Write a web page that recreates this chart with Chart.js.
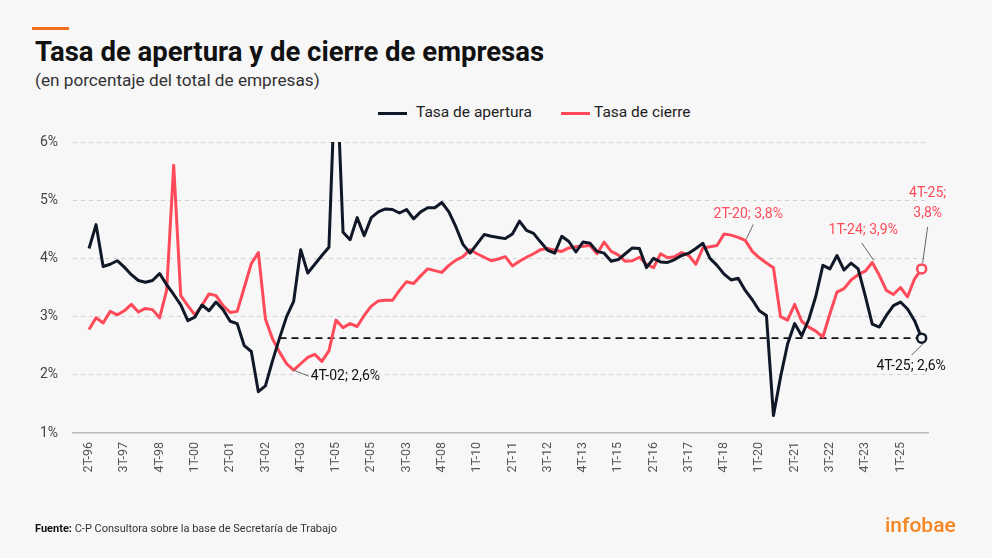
<!DOCTYPE html>
<html lang="es">
<head>
<meta charset="utf-8">
<title>Tasa de apertura y de cierre de empresas</title>
<script src="https://cdn.jsdelivr.net/npm/chart.js@4.4.1/dist/chart.umd.min.js"></script>
<style>
  html, body { margin: 0; padding: 0; background: #f7f7f7; }
  body { width: 992px; height: 558px; position: relative; overflow: hidden; font-family: Roboto, "Noto Sans", sans-serif; }
  #chart { position: absolute; left: 0; top: 0; }
  .abs { position: absolute; white-space: nowrap; line-height: 1; }
  #bar { position: absolute; left: 32px; top: 26.5px; width: 37px; height: 3px; background: #f26f21; }
  #title { left: 35px; top: 38px; font-size: 27.5px; font-weight: 700; color: #111; }
  #sub { left: 35px; top: 71.6px; font-size: 17.2px; color: #333; }
  .key { position: absolute; top: 111.5px; width: 29px; height: 3px; }
  .keytxt { top: 105.4px; font-size: 15.5px; color: #222; }
  #src { left: 35px; top: 522.5px; font-size: 11px; color: #333; }
  #src b { color: #111; }
  #logo { left: 885px; top: 515px; font-size: 21px; font-weight: 500; color: #f5861f; }
</style>
</head>
<body>
<div id="bar"></div>
<div id="title" class="abs">Tasa de apertura y de cierre de empresas</div>
<div id="sub" class="abs">(en porcentaje del total de empresas)</div>
<div class="key" style="left:378px;background:#101828"></div>
<div class="abs keytxt" style="left:416px">Tasa de apertura</div>
<div class="key" style="left:561px;background:#ff4a5a"></div>
<div class="abs keytxt" style="left:594px">Tasa de cierre</div>
<canvas id="chart" width="992" height="558"></canvas>
<div id="src" class="abs"><b>Fuente:</b> C-P Consultora sobre la base de Secretaría de Trabajo</div>
<div id="logo" class="abs">infobae</div>

<script>
// tasa de apertura, trimestral desde 2T-96 hasta 4T-25 (%)
const apertura = [
  4.17, 4.58, 3.86, 3.90, 3.96, 3.85, 3.72, 3.62, 3.59, 3.62,
  3.74, 3.55, 3.38, 3.20, 2.93, 2.99, 3.20, 3.10, 3.25, 3.12,
  2.92, 2.88, 2.50, 2.40, 1.71, 1.81, 2.24, 2.63, 3.00, 3.26,
  4.15, 3.75, 3.90, 4.05, 4.19, 7.50, 4.45, 4.32, 4.70, 4.39,
  4.70, 4.80, 4.85, 4.84, 4.78, 4.84, 4.68, 4.80, 4.87, 4.87,
  4.96, 4.80, 4.54, 4.24, 4.09, 4.25, 4.41, 4.38, 4.36, 4.34,
  4.42, 4.64, 4.48, 4.43, 4.28, 4.14, 4.09, 4.38, 4.29, 4.11,
  4.28, 4.26, 4.12, 4.09, 3.95, 3.98, 4.08, 4.18, 4.17, 3.84,
  4.00, 3.94, 3.93, 3.98, 4.05, 4.09, 4.17, 4.26, 4.00, 3.88,
  3.73, 3.63, 3.66, 3.45, 3.29, 3.10, 3.02, 1.30, 1.96, 2.53,
  2.88, 2.67, 2.95, 3.35, 3.88, 3.82, 4.05, 3.80, 3.92, 3.82,
  3.36, 2.87, 2.82, 3.02, 3.19, 3.25, 3.13, 2.93, 2.63
];

// tasa de cierre (%)
const cierre = [
  2.78, 2.98, 2.89, 3.09, 3.03, 3.10, 3.21, 3.08, 3.14, 3.12,
  2.98, 3.45, 5.60, 3.36, 3.19, 3.03, 3.19, 3.39, 3.36, 3.19,
  3.07, 3.09, 3.50, 3.91, 4.10, 2.96, 2.62, 2.39, 2.19, 2.08,
  2.19, 2.30, 2.35, 2.23, 2.41, 2.94, 2.81, 2.88, 2.83, 3.02,
  3.18, 3.27, 3.28, 3.28, 3.45, 3.60, 3.57, 3.70, 3.82, 3.79,
  3.76, 3.88, 3.97, 4.03, 4.15, 4.08, 4.02, 3.96, 3.99, 4.03,
  3.87, 3.95, 4.02, 4.08, 4.15, 4.17, 4.14, 4.12, 4.18, 4.20,
  4.21, 4.22, 4.08, 4.28, 4.12, 4.06, 3.95, 3.96, 4.02, 3.90,
  3.84, 4.08, 4.01, 4.03, 4.10, 4.05, 3.90, 4.18, 4.20, 4.22,
  4.42, 4.40, 4.36, 4.31, 4.12, 4.01, 3.92, 3.84, 3.00, 2.94,
  3.21, 2.92, 2.82, 2.75, 2.65, 3.05, 3.42, 3.48, 3.63, 3.72,
  3.78, 3.93, 3.71, 3.45, 3.38, 3.50, 3.34, 3.65, 3.82
];

// etiquetas visibles del eje x (una cada 5 trimestres), tal como aparecen
const tickLabels = [
  '2T-96', '3T-97', '4T-98', '1T-00', '2T-01', '3T-02', '4T-03', '1T-05',
  '2T-05', '3T-03', '4T-08', '1T-10', '2T-11', '3T-12', '4T-13', '1T-15',
  '2T-16', '3T-17', '4T-18', '1T-20', '2T-21', '3T-22', '4T-23', '1T-25'
];
const yTicks = [1, 2, 3, 4, 5, 6];

// linea de referencia punteada: nivel del ultimo dato de apertura
const refFrom = 27;

const RED = '#ff4a5a';
const BLACK = '#101828';
const BG = '#f7f7f7';

const last = apertura.length - 1;
const refLevel = apertura[last];

// trimestres 2T-96 ... 4T-25
const quarters = [];
for (let i = 0, y = 1996, q = 2; i < apertura.length; i++) {
  quarters.push(q + 'T-' + String(y).slice(2));
  q++;
  if (q > 4) { q = 1; y++; }
}

const toPoints = arr => arr.map((v, i) => ({ x: i, y: v }));
const tickIdx = tickLabels.map((_, k) => k * 5);

// notas sobre el grafico (desplazamientos en px respecto del punto)
const notes = [
  { set: 1, idx: 93, text: ['2T-20; 3,8%'], color: RED, from: [1, -1], to: [8, -16], at: [3, -26], align: 'center' },
  { set: 1, idx: 111, text: ['1T-24; 3,9%'], color: RED, from: [1.5, -2], to: [-10.5, -19.5], at: [-9, -31.5], align: 'center' },
  { set: 1, idx: last, text: ['4T-25;', '3,8%'], color: RED, from: [1, -6], to: [6, -42], at: [6, -75], align: 'center' },
  { set: 0, idx: last, text: ['4T-25; 2,6%'], color: '#111', from: [1, 6], to: [-10, 17], at: [-10.5, 28.5], align: 'center' },
  { set: 1, idx: 29, text: ['4T-02; 2,6%'], color: '#111', from: [0, 0], to: [15, 6], at: [17, 6.5], align: 'left' }
];

const notesPlugin = {
  id: 'notes',
  afterDatasetsDraw(chart) {
    const ctx = chart.ctx;
    ctx.save();
    notes.forEach(n => {
      const pt = chart.getDatasetMeta(n.set).data[n.idx];
      ctx.strokeStyle = '#666';
      ctx.lineWidth = 1;
      ctx.beginPath();
      ctx.moveTo(pt.x + n.from[0], pt.y + n.from[1]);
      ctx.lineTo(pt.x + n.to[0], pt.y + n.to[1]);
      ctx.stroke();
      ctx.fillStyle = n.color;
      ctx.font = '400 14px Roboto';
      ctx.textAlign = n.align;
      ctx.textBaseline = 'middle';
      n.text.forEach((t, k) => ctx.fillText(t, pt.x + n.at[0], pt.y + n.at[1] + k * 20));
    });
    ctx.restore();
  }
};

Chart.defaults.font.family = 'Roboto';

const endDot = c => (c.dataIndex === last ? 4.5 : 0);

new Chart(document.getElementById('chart'), {
  type: 'line',
  data: {
    labels: quarters,
    datasets: [
      {
        label: 'Tasa de apertura',
        data: toPoints(apertura),
        borderColor: BLACK,
        borderWidth: 3,
        borderJoinStyle: 'round',
        tension: 0,
        pointRadius: endDot,
        pointBorderWidth: 2.5,
        pointBorderColor: BLACK,
        pointBackgroundColor: BG
      },
      {
        label: 'Tasa de cierre',
        data: toPoints(cierre),
        borderColor: RED,
        borderWidth: 3,
        borderJoinStyle: 'round',
        tension: 0,
        pointRadius: endDot,
        pointBorderWidth: 2.5,
        pointBorderColor: RED,
        pointBackgroundColor: BG
      },
      {
        label: 'ref',
        data: [{ x: refFrom, y: refLevel }, { x: last, y: refLevel }],
        borderColor: '#111',
        borderWidth: 1.8,
        borderDash: [7, 5],
        pointRadius: 0
      }
    ]
  },
  options: {
    responsive: false,
    animation: false,
    layout: { padding: { top: 142, right: 64, left: 0, bottom: 0 } },
    plugins: {
      legend: { display: false },
      tooltip: { enabled: false }
    },
    scales: {
      x: {
        type: 'linear',
        min: -2.27,
        max: 118.9,
        afterFit: s => { s.height = 125; },
        afterBuildTicks: s => { s.ticks = tickIdx.map(v => ({ value: v })); },
        grid: { display: true, color: 'rgba(0,0,0,0)', drawTicks: false },
        border: { display: true, color: '#bdbdbd', width: 1.5 },
        ticks: {
          autoSkip: false,
          minRotation: 90,
          maxRotation: 90,
          padding: 9,
          color: '#555',
          font: { size: 12.5 },
          callback: (v, i) => tickLabels[i]
        }
      },
      y: {
        min: 1,
        max: 6,
        afterFit: s => { s.width = 73; },
        afterBuildTicks: s => { s.ticks = yTicks.map(v => ({ value: v })); },
        grid: {
          color: c => (c.tick && c.tick.value === yTicks[0] ? 'rgba(0,0,0,0)' : '#d2d2d2'),
          lineWidth: 1,
          drawTicks: false
        },
        border: { display: false, dash: [4, 4] },
        ticks: {
          padding: 15,
          color: '#444',
          font: { size: 14 },
          callback: v => v + '%'
        }
      }
    }
  },
  plugins: [notesPlugin]
});
</script>
</body>
</html>
